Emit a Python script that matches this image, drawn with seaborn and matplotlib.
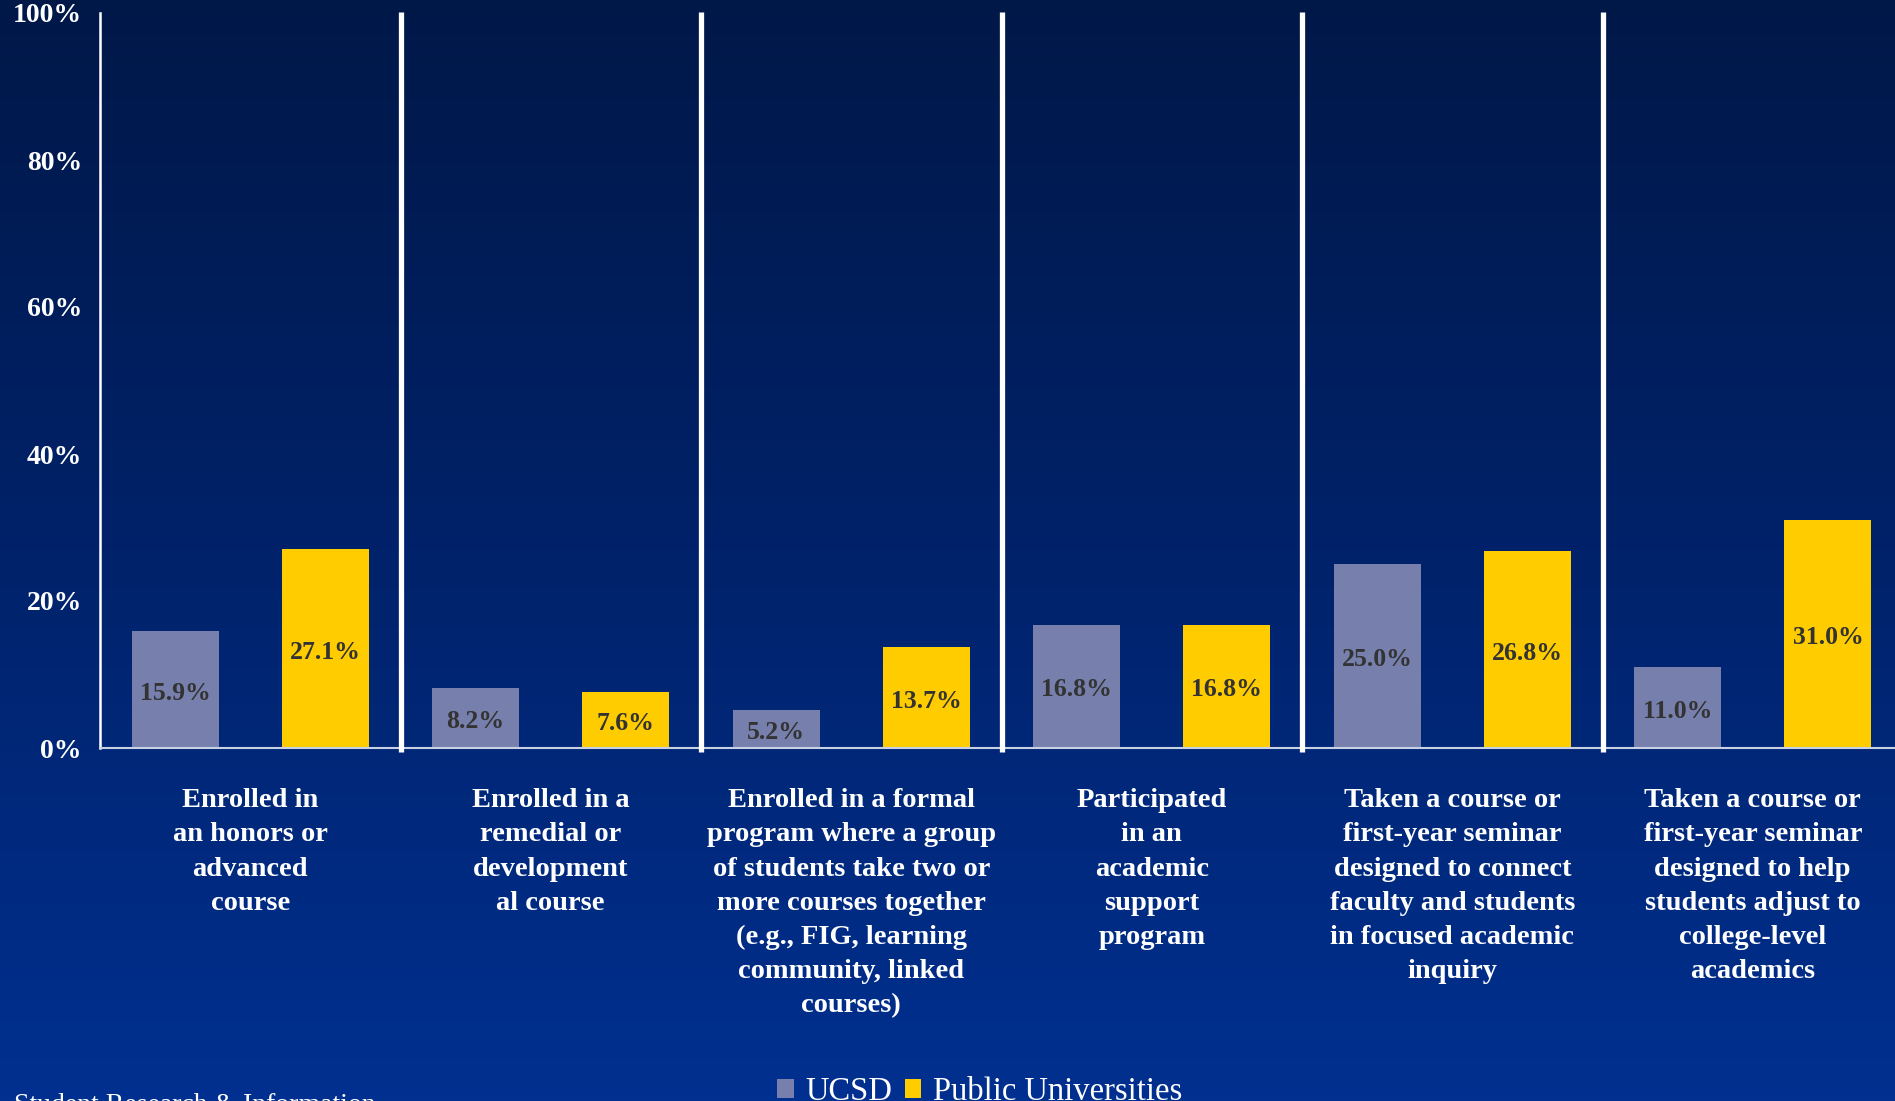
import numpy as np
import pandas as pd
import seaborn as sns
import matplotlib.pyplot as plt
from matplotlib.colors import LinearSegmentedColormap

# share of students (%) by experience
categories = [
    "Enrolled in\nan honors or\nadvanced\ncourse",
    "Enrolled in a\nremedial or\ndevelopment\nal course",
    "Enrolled in a formal\nprogram where a group\nof students take two or\nmore courses together\n(e.g., FIG, learning\ncommunity, linked\ncourses)",
    "Participated\nin an\nacademic\nsupport\nprogram",
    "Taken a course or\nfirst-year seminar\ndesigned to connect\nfaculty and students\nin focused academic\ninquiry",
    "Taken a course or\nfirst-year seminar\ndesigned to help\nstudents adjust to\ncollege-level\nacademics",
]
ucsd = [15.9, 8.2, 5.2, 16.8, 25.0, 11.0]
public = [27.1, 7.6, 13.7, 16.8, 26.8, 31.0]
groups = ["UCSD", "Public Universities"]
yticks = [0, 20, 40, 60, 80, 100]

df = pd.DataFrame({
    "cat": list(range(len(categories))) * 2,
    "group": [groups[0]] * len(ucsd) + [groups[1]] * len(public),
    "value": ucsd + public,
})

serif = ["Liberation Serif", "DejaVu Serif"]
plt.rcParams["font.family"] = serif

W, H = 1895, 1101
fig = plt.figure(figsize=(W / 100, H / 100), dpi=100)

# gradient background
bg = fig.add_axes([0, 0, 1, 1], zorder=-10)
cmap = LinearSegmentedColormap.from_list("bg", ["#001848", "#00226a", "#003090"])
bg.imshow(np.linspace(0, 1, 256).reshape(-1, 1), aspect="auto", cmap=cmap,
          extent=[0, 1, 0, 1])
bg.set_axis_off()

left, right = 100 / W, 1903 / W
bottom, top = 1 - 748 / H, 1 - 13 / H
ax = fig.add_axes([left, bottom, right - left, top - bottom])
ax.set_facecolor("none")

sns.barplot(data=df, x="cat", y="value", hue="group", ax=ax,
            palette=["#7780ad", "#ffcc00"], width=1.0, gap=0.42,
            saturation=1, errorbar=None, order=list(range(len(categories))))

handles, labels = ax.get_legend_handles_labels()
ax.legend_.remove()

for cont in ax.containers:
    for bar in cont:
        h = bar.get_height()
        ax.text(bar.get_x() + bar.get_width() / 2, h / 2 - 0.5, f"{h:.1f}%",
                ha="center", va="center", fontsize=18.5, fontweight="bold",
                color="#333333")

ax.set_xlim(-0.5, len(categories) - 0.5)
ax.set_ylim(0, 100)
ax.set_yticks(yticks)
ax.set_yticklabels([f"{t}%" for t in yticks], color="white", fontsize=20,
                   fontweight="bold")
ax.tick_params(axis="y", length=0, pad=13)
ax.set_xticks(range(len(categories)))
ax.set_xticklabels(categories, color="white", fontsize=20.5, fontweight="bold",
                   linespacing=1.48, va="top")
ax.tick_params(axis="x", length=0, pad=29)
ax.set_xlabel("")
ax.set_ylabel("")

for s in ["top", "right"]:
    ax.spines[s].set_visible(False)
ax.spines["left"].set_color("white")
ax.spines["left"].set_linewidth(1.8)
ax.spines["bottom"].set_color("#c8d0e4")
ax.spines["bottom"].set_linewidth(1.5)

ax.vlines([i + 0.5 for i in range(len(categories) - 1)], -0.6, 100.2,
          color="white", linewidth=3.8, clip_on=False, zorder=5)

fig.legend(handles, labels, loc="lower left", bbox_to_anchor=(748 / W, -0.032),
           ncol=2, frameon=False, fontsize=23.5, labelcolor="white",
           handlelength=0.5, handleheight=0.5, handletextpad=0.35,
           columnspacing=0.4)

fig.text(14 / W, 1 - 1093 / H, "Student Research & Information", color="white",
         fontsize=20, va="top", ha="left")

fig.savefig("out.png", dpi=100)
